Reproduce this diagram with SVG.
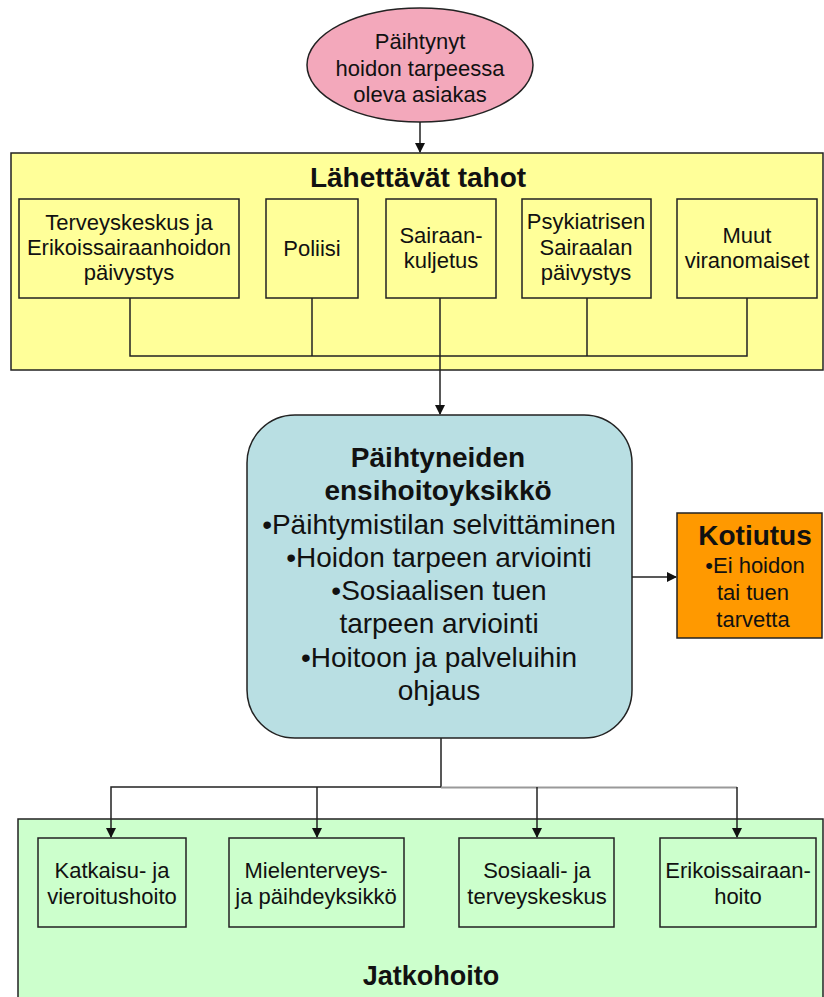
<svg xmlns="http://www.w3.org/2000/svg" width="824" height="997" viewBox="0 0 824 997">
<defs>
<marker id="ah" markerWidth="10" markerHeight="10" refX="9" refY="5" orient="auto" markerUnits="userSpaceOnUse" viewBox="0 0 10 10">
<path d="M0,0 L10,5 L0,10 z" fill="#111"/>
</marker>
</defs>
<style>
text{font-family:"Liberation Sans",Arial,sans-serif;fill:#111;text-anchor:middle}
.t22{font-size:22px}
.t28{font-size:28px}
.b28{font-size:28px;font-weight:bold}
.box{stroke:#222;stroke-width:1.5}
.in{fill:none;stroke:#222;stroke-width:1.5}
.ln{fill:none;stroke:#222;stroke-width:1.5}
</style>
<rect width="824" height="997" fill="#fff"/>

<g id="group-lahettavat">
<rect class="box" x="11" y="153" width="812" height="217" fill="#FFFF99"/>
<text class="b28" x="418" y="187">Lähettävät tahot</text>
</g>

<g id="group-jatkohoito">
<rect class="box" x="18" y="819" width="805" height="190" fill="#CCFFCC"/>
<text class="b28" x="431" y="985" style="font-size:27px">Jatkohoito</text>
</g>

<g id="connectors">
<line class="ln" x1="420" y1="122" x2="420" y2="152" marker-end="url(#ah)"/>
<polyline class="ln" points="130,298 130,356 747,356 747,298"/>
<line class="ln" x1="312" y1="298" x2="312" y2="356"/>
<line class="ln" x1="587" y1="298" x2="587" y2="356"/>
<line class="ln" x1="440" y1="298" x2="440" y2="414" marker-end="url(#ah)"/>
<line class="ln" x1="632" y1="577" x2="676" y2="577" marker-end="url(#ah)"/>
<polyline class="ln" points="441,738 441,787 111,787 111,837" marker-end="url(#ah)"/>
<line class="ln" x1="317" y1="787" x2="317" y2="837" marker-end="url(#ah)"/>
<line x1="441" y1="787.5" x2="737" y2="787.5" stroke="#999" stroke-width="2"/>
<line class="ln" x1="537" y1="787" x2="537" y2="837" marker-end="url(#ah)"/>
<line class="ln" x1="737" y1="787" x2="737" y2="837" marker-end="url(#ah)"/>
</g>

<g id="asiakas">
<ellipse class="box" cx="420" cy="65" rx="113" ry="57" fill="#F3A8BB"/>
<text class="t22" x="420" y="49">Päihtynyt</text>
<text class="t22" x="420" y="76">hoidon tarpeessa</text>
<text class="t22" x="420" y="102">oleva asiakas</text>
</g>

<g id="terveyskeskus">
<rect class="in" x="19" y="199" width="220" height="99"/>
<text class="t22" x="129" y="230">Terveyskeskus ja</text>
<text class="t22" x="129" y="255">Erikoissairaanhoidon</text>
<text class="t22" x="129" y="280">päivystys</text>
</g>

<g id="poliisi">
<rect class="in" x="266" y="199" width="92" height="99"/>
<text class="t22" x="312" y="256">Poliisi</text>
</g>

<g id="sairaankuljetus">
<rect class="in" x="386" y="199" width="110" height="99"/>
<text class="t22" x="441" y="243">Sairaan-</text>
<text class="t22" x="441" y="268">kuljetus</text>
</g>

<g id="psykiatrinen">
<rect class="in" x="522" y="199" width="129" height="99"/>
<text class="t22" x="586" y="229">Psykiatrisen</text>
<text class="t22" x="586" y="255">Sairaalan</text>
<text class="t22" x="586" y="280">päivystys</text>
</g>

<g id="muut">
<rect class="in" x="677" y="199" width="140" height="99"/>
<text class="t22" x="747" y="243">Muut</text>
<text class="t22" x="747" y="268">viranomaiset</text>
</g>

<g id="ensihoitoyksikko">
<rect class="box" x="247" y="415" width="385" height="323" rx="48" ry="48" fill="#B9DFE3"/>
<text class="b28" x="438" y="467">Päihtyneiden</text>
<text class="b28" x="438" y="500">ensihoitoyksikkö</text>
<text class="t28" x="439" y="534">•Päihtymistilan selvittäminen</text>
<text class="t28" x="439" y="567">•Hoidon tarpeen arviointi</text>
<text class="t28" x="439" y="600">•Sosiaalisen tuen</text>
<text class="t28" x="439" y="633">tarpeen arviointi</text>
<text class="t28" x="439" y="667">•Hoitoon ja palveluihin</text>
<text class="t28" x="439" y="700">ohjaus</text>
</g>

<g id="kotiutus">
<rect class="box" x="677" y="513" width="145" height="125" fill="#FF9900"/>
<text class="b28" x="755" y="545">Kotiutus</text>
<text class="t22" x="755" y="573">•Ei hoidon</text>
<text class="t22" x="753" y="600">tai tuen</text>
<text class="t22" x="753" y="627">tarvetta</text>
</g>

<g id="katkaisu">
<rect class="in" x="38" y="838" width="148" height="89"/>
<text class="t22" x="112" y="878">Katkaisu- ja</text>
<text class="t22" x="112" y="904">vieroitushoito</text>
</g>

<g id="mielenterveys">
<rect class="in" x="229" y="838" width="175" height="89"/>
<text class="t22" x="316" y="878">Mielenterveys-</text>
<text class="t22" x="316" y="904">ja päihdeyksikkö</text>
</g>

<g id="sosiaali">
<rect class="in" x="459" y="838" width="155" height="89"/>
<text class="t22" x="537" y="878">Sosiaali- ja</text>
<text class="t22" x="537" y="904">terveyskeskus</text>
</g>

<g id="erikoissairaanhoito">
<rect class="in" x="660" y="838" width="156" height="89"/>
<text class="t22" x="738" y="878">Erikoissairaan-</text>
<text class="t22" x="738" y="904">hoito</text>
</g>
</svg>
